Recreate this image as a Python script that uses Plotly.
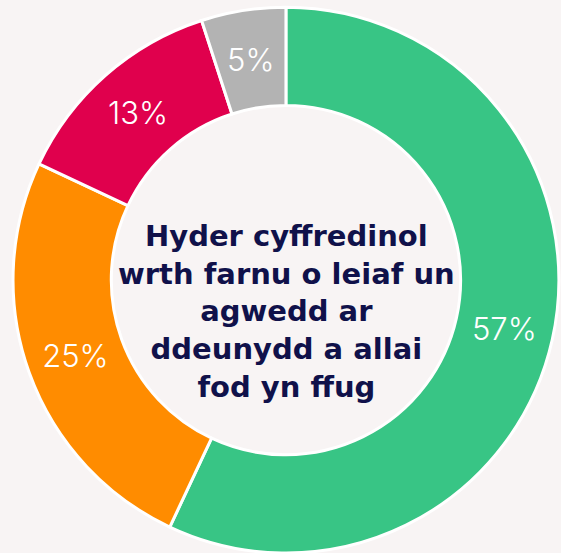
import math
import plotly.graph_objects as go

labels = ["Hyder", "Rhywfaint o hyder", "Dim llawer o hyder", "Ddim yn gwybod"]
values = [57, 25, 13, 5]
colors = ["#38c585", "#ff8c00", "#e0004d", "#b3b3b3"]
center_lines = ["Hyder cyffredinol", "wrth farnu o leiaf un", "agwedd ar",
                "ddeunydd a allai", "fod yn ffug"]

W, H = 561, 553
DOM_X = [0.0214, 0.998]
DOM_Y = [0.0, 0.987]
HOLE = 0.64
LABEL_FONT = dict(color="white", size=31, family="Inter", weight=300)

# slices whose label plotly would push outward are labelled by an annotation
# at the slice's mid-ring point instead
manual = [False, False, False, True]

fig = go.Figure(go.Pie(
    labels=labels,
    values=values,
    hole=HOLE,
    sort=False,
    direction="clockwise",
    rotation=0,
    marker=dict(colors=colors, line=dict(color="white", width=3)),
    texttemplate="%{value}%",
    textposition=["none" if m else "inside" for m in manual],
    insidetextorientation="horizontal",
    textfont=LABEL_FONT,
    domain=dict(x=DOM_X, y=DOM_Y),
    showlegend=False,
    hoverinfo="label+percent",
))

# geometry of the pie in pixels
cx = (DOM_X[0] + DOM_X[1]) / 2 * W
cy_from_bottom = (DOM_Y[0] + DOM_Y[1]) / 2 * H
r_out = min((DOM_X[1] - DOM_X[0]) * W, (DOM_Y[1] - DOM_Y[0]) * H) / 2
r_mid = r_out * (1 + HOLE) / 2
total = sum(values)
cum = 0
for v, m in zip(values, manual):
    if m:
        theta = 2 * math.pi * (cum + v / 2) / total
        px = cx + r_mid * math.sin(theta)
        py = cy_from_bottom + r_mid * math.cos(theta)
        fig.add_annotation(
            x=px / W, y=py / H, xref="paper", yref="paper",
            xanchor="center", yanchor="middle", showarrow=False,
            text=f"{v}%", font=LABEL_FONT,
        )
    cum += v

fig.add_annotation(
    x=286 / W, y=1 - 311 / H, xref="paper", yref="paper",
    xanchor="center", yanchor="middle",
    text="<br>".join(center_lines), showarrow=False, align="center",
    font=dict(family="DejaVu Sans", size=29, color="#10114a", weight=700),
)

fig.update_layout(
    width=W, height=H,
    margin=dict(l=0, r=0, t=0, b=0),
    paper_bgcolor="#f8f4f4",
    plot_bgcolor="#f8f4f4",
)

fig.write_html("out.html", config={"displayModeBar": False},
               post_script="document.body.style.margin='0';")
